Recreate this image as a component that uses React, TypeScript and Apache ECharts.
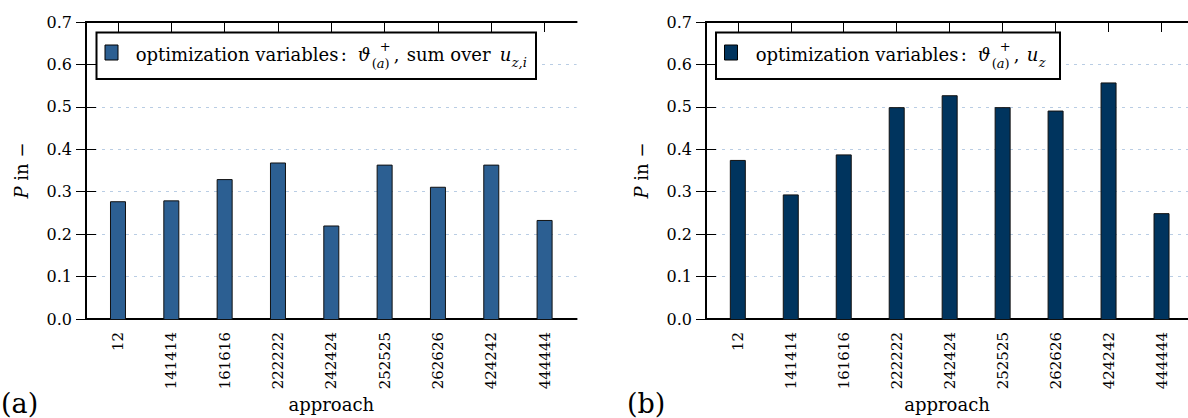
import React, { useEffect, useRef } from "react";
import * as echarts from "echarts";

const categories = ["12", "141414", "161616", "222222", "242424", "252525", "262626", "424242", "444444"];
const valuesA = [0.279, 0.281, 0.331, 0.37, 0.222, 0.365, 0.313, 0.365, 0.235];
const valuesB = [0.376, 0.295, 0.389, 0.5, 0.528, 0.5, 0.492, 0.558, 0.251];
const yTickLabels = ["0.0", "0.1", "0.2", "0.3", "0.4", "0.5", "0.6", "0.7"];
const colorA = "#2c5f92";
const colorB = "#00345e";

const FONT = "DejaVu Serif";
const TICK = 15;
const LABEL = 18;
const SUB = 13;

const FRAME_W = 490.6;
const FRAME_H = 298;
const TOP = 22;
const BAND = FRAME_W / 9.2;

function panel(frameLeft: number, gi: number) {
  const grids = [
    { left: frameLeft, top: TOP, width: FRAME_W, height: FRAME_H },
    { left: frameLeft + 0.1 * BAND, top: TOP, width: 9 * BAND, height: FRAME_H },
  ];
  const black = { color: "#000", width: 2 };
  const xAxes = [
    {
      type: "value", gridIndex: gi, position: "bottom", min: 0, max: 1,
      axisLine: { show: true, onZero: false, lineStyle: black },
      axisTick: { show: false }, axisLabel: { show: false }, splitLine: { show: false },
      name: "approach", nameLocation: "middle", nameGap: 76,
      nameTextStyle: { color: "#000", fontSize: LABEL, fontFamily: FONT },
    },
    {
      type: "value", gridIndex: gi, position: "top", min: 0, max: 1,
      axisLine: { show: true, onZero: false, lineStyle: black },
      axisTick: { show: false }, axisLabel: { show: false }, splitLine: { show: false },
    },
    {
      type: "category", gridIndex: gi + 1, position: "bottom", data: categories,
      axisLine: { show: false }, axisTick: { show: false },
      axisLabel: { show: true, rotate: 90, margin: 12, color: "#000", fontSize: TICK, fontFamily: FONT, interval: 0 },
      splitLine: { show: false },
    },
    {
      type: "category", gridIndex: gi + 1, position: "top", data: categories,
      axisLine: { show: false },
      axisTick: { show: true, inside: true, length: 10, alignWithLabel: true, interval: 0, lineStyle: { color: "#000", width: 1 } },
      axisLabel: { show: false }, splitLine: { show: false },
    },
  ];
  const yAxes = [
    {
      type: "value", gridIndex: gi, position: "left", min: 0, max: 0.7, interval: 0.1,
      axisLine: { show: true, lineStyle: black },
      axisTick: { show: true, inside: true, length: 10, lineStyle: { color: "#000", width: 1 } },
      axisLabel: {
        show: true, margin: 14, color: "#000", fontSize: TICK + 1, fontFamily: FONT,
        formatter: (v: number) => yTickLabels[Math.round(v * 10)] ?? "",
      },
      splitLine: { show: true, lineStyle: { color: "#b9cde4", width: 1, type: [3, 5] } },
      name: "{i|P} in \u2212", nameLocation: "middle", nameGap: 56, nameRotate: 90,
      nameTextStyle: {
        color: "#000", fontSize: LABEL, fontFamily: FONT,
        rich: { i: { fontStyle: "italic", fontSize: LABEL, fontFamily: FONT, color: "#000" } },
      },
    },
    {
      type: "value", gridIndex: gi, position: "right", min: 0, max: 0.7, interval: 0.1,
      axisLine: { show: true, lineStyle: black },
      axisTick: { show: true, inside: true, length: 10, lineStyle: { color: "#000", width: 1 } },
      axisLabel: { show: false }, splitLine: { show: false },
    },
    {
      type: "value", gridIndex: gi + 1, position: "left", min: 0, max: 0.7, interval: 0.1, show: false,
      splitLine: { show: false },
    },
  ];
  return { grids, xAxes, yAxes };
}

function txt(x: number, y: number, text: string, size: number, italic = false, extra: any = {}) {
  return {
    type: "text", x, y, silent: true,
    style: {
      text, fontSize: size, fontFamily: FONT, fontStyle: italic ? "italic" : "normal",
      fill: "#000", verticalAlign: "middle", align: "left", ...extra,
    },
  };
}

function legendBox(bx: number, bw: number, color: string, startX: number, withSum: boolean) {
  const off = (d: number) => startX + d;
  const els: any[] = [
    { type: "rect", shape: { x: bx, y: 32.5, width: bw, height: 46.5 }, style: { fill: "#fff", stroke: "#000", lineWidth: 2 } },
    { type: "rect", shape: { x: bx + 8.5, y: 45, width: 13, height: 15 }, style: { fill: color, stroke: "#000", lineWidth: 1 } },
    txt(off(0), 54, "optimization variables", LABEL),
    txt(off(205), 54, ":", LABEL),
    txt(off(222), 54, "\u03d1", LABEL, true),
    txt(off(244), 46.5, "+", SUB),
    txt(off(236), 63, "({i|a})", SUB, false, { rich: { i: { fontStyle: "italic", fontSize: SUB, fontFamily: FONT, fill: "#000" } } }),
    txt(off(258), 54, ",", LABEL),
  ];
  if (withSum) {
    els.push(txt(off(271), 54, "sum over", LABEL));
    els.push(txt(off(364), 54, "u", LABEL, true));
    els.push(txt(off(376), 62, "z,i", SUB, true));
  } else {
    els.push(txt(off(271), 54, "u", LABEL, true));
    els.push(txt(off(283), 62, "z", SUB, true));
  }
  return els.map((e) => ({ z: 11, ...e }));
}

export default function App() {
  const ref = useRef<HTMLDivElement>(null);
  useEffect(() => {
    if (!ref.current) return;
    const chart = echarts.init(ref.current, null, { renderer: "svg" });
    const a = panel(86, 0);
    const b = panel(706, 2);
    chart.setOption({
      animation: false,
      backgroundColor: "#fff",
      textStyle: { fontFamily: FONT },
      grid: [...a.grids, ...b.grids],
      xAxis: [...a.xAxes, ...b.xAxes],
      yAxis: [...a.yAxes, ...b.yAxes],
      series: [
        {
          type: "bar", xAxisIndex: 2, yAxisIndex: 2, barWidth: 16,
          data: valuesA,
          itemStyle: { color: colorA, borderColor: "#111", borderWidth: 1 },
        },
        {
          type: "bar", xAxisIndex: 6, yAxisIndex: 5, barWidth: 16,
          data: valuesB,
          itemStyle: { color: colorB, borderColor: "#111", borderWidth: 1 },
        },
      ],
      graphic: [
        ...legendBox(96.5, 439.5, colorA, 135.7, true),
        ...legendBox(716, 344, colorB, 755.7, false),
        txt(1, 403, "(a)", 27),
        txt(627, 403, "(b)", 27),
      ],
    });
    return () => chart.dispose();
  }, []);
  return <div ref={ref} style={{ position: "fixed", left: 0, top: 0, width: 1188, height: 418, background: "#fff" }} />;
}
